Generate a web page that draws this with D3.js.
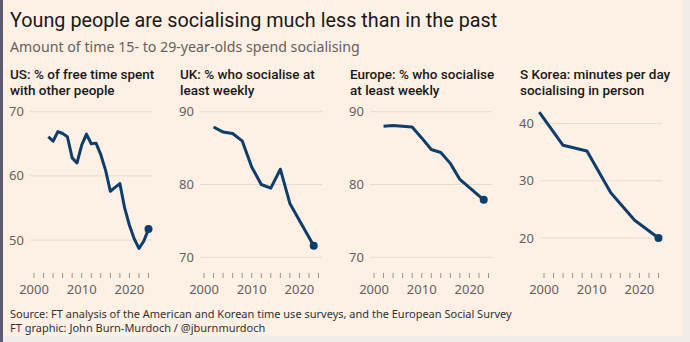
<!DOCTYPE html>
<html lang="en">
<head>
  <meta charset="UTF-8">
  <title>Young people are socialising much less than in the past</title>
  <style>
    body { margin: 0; background: #fdf1e5; }
    svg { display: block; font-family: "Noto Sans", sans-serif; }
  </style>
</head>
<body>
  <svg id="svg" width="690" height="342"></svg>

  <script src="https://d3js.org/d3.v7.min.js"></script>
  <script>
    // data
    const usYears = [2003, 2004, 2005, 2006, 2007, 2008, 2009, 2010, 2011, 2012, 2013, 2014, 2015, 2016, 2017, 2018, 2019, 2020, 2021, 2022, 2023, 2024]
    const usValues = [66.1, 65.4, 66.9, 66.6, 66.1, 62.8, 62.0, 64.8, 66.5, 65.0, 65.1, 63.3, 60.9, 57.6, 58.2, 58.8, 55.0, 52.3, 50.2, 48.7, 49.8, 51.7]

    const ukYears = [2002, 2004, 2006, 2008, 2010, 2012, 2014, 2016, 2018, 2023]
    const ukValues = [87.9, 87.2, 87.0, 86.0, 82.4, 80.0, 79.5, 82.1, 77.4, 71.6]

    const euYears = [2002, 2004, 2006, 2008, 2010, 2012, 2014, 2016, 2018, 2023]
    const euValues = [88.0, 88.1, 88.0, 87.9, 86.4, 84.8, 84.4, 82.9, 80.7, 77.9]

    const krYears = [1999, 2004, 2009, 2014, 2019, 2024]
    const krValues = [42.0, 36.2, 35.2, 27.9, 23.1, 20.0]

    const panelTitles = [
      ['US: % of free time spent', 'with other people'],
      ['UK: % who socialise at', 'least weekly'],
      ['Europe: % who socialise', 'at least weekly'],
      ['S Korea: minutes per day', 'socialising in person']
    ]
    const yTicks = [[50, 60, 70], [70, 80, 90], [70, 80, 90], [20, 30, 40]]
    const xTicks = [2000, 2010, 2020]
    const minorTicks = d3.range(2000, 2025, 2)

    const svg = d3.select('#svg')

    // page frame
    svg.append('rect').attr('width', 690).attr('height', 342).attr('fill', '#fdf1e5')
    svg.append('rect').attr('x', 683).attr('width', 7).attr('height', 342).attr('fill', '#f1ece7')
    svg.append('rect').attr('y', 336).attr('width', 690).attr('height', 6).attr('fill', '#f1ece7')
    svg.append('rect').attr('width', 3).attr('height', 342).attr('fill', '#5e5a72')

    svg.append('text')
      .attr('x', 10).attr('y', 27)
      .attr('font-family', 'Roboto, sans-serif')
      .attr('font-size', 19.8)
      .attr('fill', '#1a1817')
      .text('Young people are socialising much less than in the past')

    svg.append('text')
      .attr('x', 10).attr('y', 52)
      .attr('font-size', 14.2)
      .attr('fill', '#66605c')
      .text('Amount of time 15- to 29-year-olds spend socialising')

    const panels = [
      { years: usYears, values: usValues, domain: [50, 70], range: [240, 111.7] },
      { years: ukYears, values: ukValues, domain: [70, 90], range: [257.3, 111.7] },
      { years: euYears, values: euValues, domain: [70, 90], range: [257.3, 111.7] },
      { years: krYears, values: krValues, domain: [20, 40], range: [238, 123.5] }
    ]

    panels.forEach((p, i) => {
      const ox = i * 170
      const g = svg.append('g')

      const x = d3.scaleLinear().domain([2000, 2024]).range([ox + 34, ox + 148.5])
      const y = d3.scaleLinear().domain(p.domain).range(p.range)

      // panel title, two lines
      g.selectAll('.ptitle')
        .data(panelTitles[i])
        .enter()
        .append('text')
        .attr('x', ox + 10)
        .attr('y', (d, j) => 79 + j * 15.5)
        .attr('font-family', 'Roboto, sans-serif')
        .attr('font-size', 13.5)
        .attr('font-weight', 500)
        .attr('fill', '#1a1817')
        .text(d => d)

      // gridlines
      g.selectAll('.grid')
        .data(yTicks[i])
        .enter()
        .append('line')
        .attr('x1', ox + 30).attr('x2', ox + 152)
        .attr('y1', d => y(d)).attr('y2', d => y(d))
        .attr('stroke', '#e9dcce')
        .attr('stroke-width', 1)

      g.selectAll('.ylab')
        .data(yTicks[i])
        .enter()
        .append('text')
        .attr('x', ox + 9)
        .attr('y', d => y(d) + 4.5)
        .attr('font-size', 13)
        .attr('fill', '#66605c')
        .text(d => d)

      // x ticks
      g.selectAll('.xtick')
        .data(minorTicks)
        .enter()
        .append('line')
        .attr('x1', d => x(d)).attr('x2', d => x(d))
        .attr('y1', 273).attr('y2', 278)
        .attr('stroke', '#9a918a')
        .attr('stroke-width', 1)

      g.selectAll('.xlab')
        .data(xTicks)
        .enter()
        .append('text')
        .attr('x', d => x(d))
        .attr('y', 294)
        .attr('text-anchor', 'middle')
        .attr('font-size', 13)
        .attr('fill', '#66605c')
        .text(d => d)

      const pts = p.years.map((yr, k) => [yr, p.values[k]])
      const line = d3.line().x(d => x(d[0])).y(d => y(d[1]))

      g.append('path')
        .attr('d', line(pts))
        .attr('fill', 'none')
        .attr('stroke', '#0f3d6b')
        .attr('stroke-width', 3)
        .attr('stroke-linejoin', 'round')

      const last = pts[pts.length - 1]
      g.append('circle')
        .attr('cx', x(last[0]))
        .attr('cy', y(last[1]))
        .attr('r', 4)
        .attr('fill', '#0f3d6b')
    })

    svg.append('text')
      .attr('x', 10).attr('y', 318)
      .attr('font-size', 11)
      .attr('fill', '#33302e')
      .text('Source: FT analysis of the American and Korean time use surveys, and the European Social Survey')

    svg.append('text')
      .attr('x', 10).attr('y', 332)
      .attr('font-size', 11)
      .attr('fill', '#33302e')
      .text('FT graphic: John Burn-Murdoch / @jburnmurdoch')
  </script>
</body>
</html>
